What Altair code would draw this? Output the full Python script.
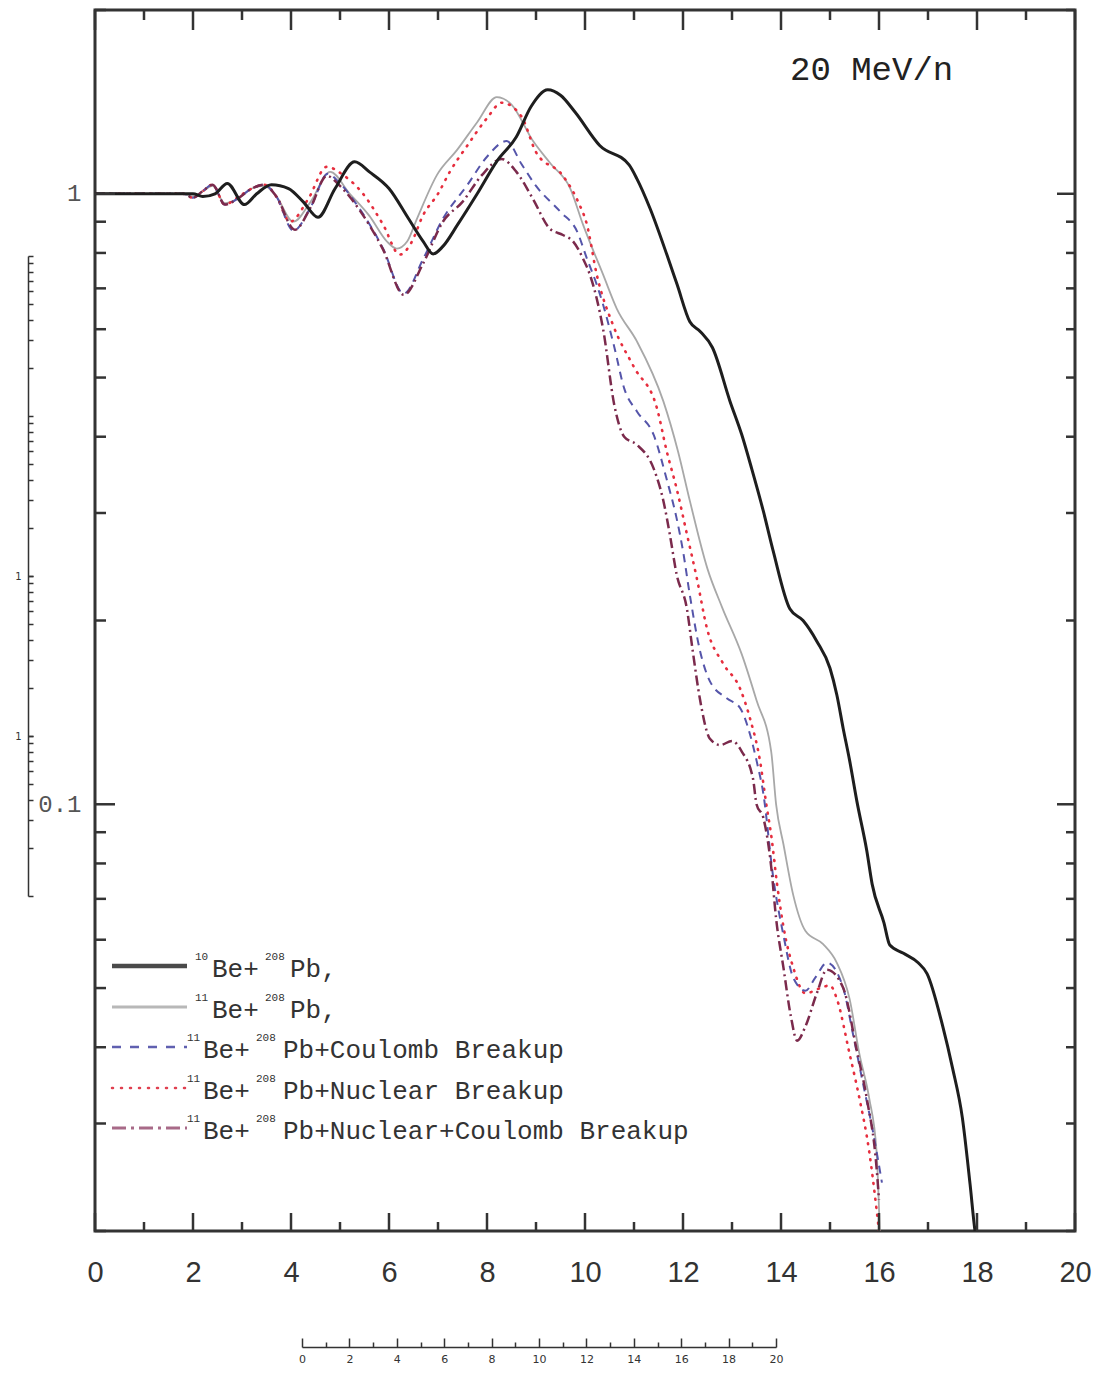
import altair as alt
import pandas as pd

# ---------------- data ----------------
x_be10 = [0, 1.0, 2.0, 2.2, 2.45, 2.7, 3.05, 3.3, 3.6, 3.95, 4.25, 4.55, 4.9, 5.3, 5.6, 6.0, 6.4, 6.7,
          6.9, 7.1, 7.4, 7.8, 8.2, 8.6, 8.9, 9.24, 9.5, 9.8, 10.3, 10.9, 11.06, 11.33, 11.67, 11.88,
          12.14, 12.35, 12.6, 12.96, 13.2, 13.4, 13.64, 13.84, 14.18, 14.45, 14.73, 15.0, 15.14,
          15.27, 15.4, 15.55, 15.75, 15.86, 16.1, 16.22, 16.5, 16.8, 16.98, 17.3, 17.5, 17.7, 17.86,
          17.96, 18.05]
y_be10 = [1, 1, 1, 0.99, 1.0, 1.04, 0.96, 1.0, 1.035, 1.02, 0.97, 0.915, 1.02, 1.128, 1.086, 1.02,
          0.91, 0.835, 0.797, 0.82, 0.89, 1.0, 1.13, 1.24, 1.39, 1.48, 1.45, 1.36, 1.2, 1.115, 1.058,
          0.945, 0.795, 0.71, 0.617, 0.595, 0.56, 0.457, 0.403, 0.355, 0.302, 0.26, 0.209, 0.2,
          0.185, 0.167, 0.151, 0.133, 0.118, 0.101, 0.084, 0.074, 0.064, 0.0588, 0.057, 0.055,
          0.0528, 0.0433, 0.037, 0.0307, 0.0238, 0.02, 0.0185]

x_be11 = [0, 1.8, 2.0, 2.2, 2.4, 2.65, 2.9, 3.2, 3.45, 3.7, 4.05, 4.4, 4.8, 5.2, 5.6, 5.96, 6.16,
          6.37, 6.57, 6.98, 7.39, 7.8, 8.2, 8.5, 8.94, 9.3, 9.7, 9.96, 10.37, 10.65, 11.06, 11.6,
          11.9, 12.14, 12.5, 12.8, 13.2, 13.5, 13.8, 13.9, 14.05, 14.25, 14.5, 14.86, 15.14, 15.4,
          15.6, 15.8, 15.95, 16.02]
y_be11 = [1, 1, 0.99, 1.01, 1.03, 0.965, 0.98, 1.02, 1.03, 0.99, 0.9, 0.97, 1.086, 1.0, 0.92,
          0.835, 0.813, 0.835, 0.91, 1.074, 1.18, 1.31, 1.44, 1.40, 1.22, 1.12, 1.02, 0.89, 0.737,
          0.648, 0.573, 0.457, 0.378, 0.314, 0.243, 0.21, 0.176, 0.148, 0.122, 0.1, 0.086, 0.071,
          0.062, 0.059, 0.055, 0.048, 0.039, 0.033, 0.027, 0.0195]

x_coul = [0, 1.8, 2.0, 2.2, 2.4, 2.65, 2.9, 3.2, 3.45, 3.7, 4.05, 4.4, 4.75, 5.0, 5.4, 5.88, 6.3,
          6.7, 7.1, 7.6, 8.0, 8.4, 8.7, 9.0, 9.5, 9.84, 10.04, 10.24, 10.37, 10.6, 10.8, 11.06,
          11.4, 11.67, 11.87, 12.0, 12.14, 12.35, 12.55, 12.9, 13.16, 13.37, 13.5, 13.64, 13.84,
          14.05, 14.25, 14.5, 14.7, 14.94, 15.27, 15.47, 15.67, 15.88, 16.06]
y_coul = [1, 1, 0.985, 1.01, 1.035, 0.96, 0.98, 1.02, 1.035, 0.99, 0.87, 0.95, 1.078, 1.04, 0.945,
          0.813, 0.686, 0.783, 0.91, 1.034, 1.15, 1.22, 1.12, 1.03, 0.934, 0.867, 0.783, 0.71,
          0.658, 0.56, 0.48, 0.44, 0.403, 0.34, 0.294, 0.26, 0.22, 0.178, 0.159, 0.149, 0.144,
          0.13, 0.118, 0.104, 0.076, 0.061, 0.052, 0.0495, 0.052, 0.055, 0.05, 0.042, 0.035,
          0.029, 0.024]

x_nucl = [0, 1.8, 2.0, 2.2, 2.4, 2.65, 2.9, 3.2, 3.45, 3.7, 3.98, 4.35, 4.73, 5.06, 5.47, 5.88,
          6.22, 6.45, 6.7, 7.0, 7.24, 7.6, 8.0, 8.3, 8.7, 9.0, 9.55, 9.86, 10.04, 10.24, 10.57,
          11.0, 11.47, 11.67, 11.87, 12.08, 12.28, 12.49, 12.82, 13.16, 13.37, 13.57, 13.7, 13.8,
          13.92, 14.05, 14.25, 14.5, 14.8, 15.0, 15.14, 15.4, 15.6, 15.8, 15.95, 16.0]
y_nucl = [1, 1, 0.985, 1.01, 1.035, 0.96, 0.985, 1.02, 1.035, 0.99, 0.9, 0.98, 1.107, 1.074, 1.0,
          0.89, 0.795, 0.83, 0.924, 1.0, 1.086, 1.2, 1.33, 1.41, 1.34, 1.17, 1.07, 0.97, 0.89,
          0.737, 0.61, 0.52, 0.445, 0.378, 0.329, 0.277, 0.235, 0.194, 0.17, 0.155, 0.138, 0.118,
          0.1, 0.089, 0.074, 0.063, 0.054, 0.049, 0.05, 0.0505, 0.048, 0.039, 0.033, 0.027,
          0.0217, 0.02]

x_both = [0, 1.8, 2.0, 2.2, 2.4, 2.65, 2.9, 3.2, 3.45, 3.7, 4.08, 4.4, 4.73, 5.0, 5.4, 5.88, 6.3,
          6.7, 7.1, 7.5, 7.9, 8.3, 8.6, 8.94, 9.28, 9.55, 9.76, 9.96, 10.1, 10.24, 10.37, 10.6,
          10.8, 11.06, 11.4, 11.6, 11.73, 11.87, 12.08, 12.2, 12.35, 12.55, 12.76, 13.0, 13.2,
          13.43, 13.5, 13.64, 13.8, 13.9, 14.05, 14.2, 14.33, 14.5, 14.73, 14.94, 15.27, 15.55,
          15.75, 15.95, 16.0]
y_both = [1, 1, 0.985, 1.01, 1.035, 0.96, 0.98, 1.02, 1.035, 0.99, 0.873, 0.95, 1.07, 1.03, 0.94,
          0.81, 0.683, 0.77, 0.9, 0.97, 1.074, 1.14, 1.086, 0.98, 0.877, 0.856, 0.835, 0.783,
          0.737, 0.673, 0.6, 0.45, 0.40, 0.388, 0.355, 0.314, 0.277, 0.238, 0.209, 0.178, 0.148,
          0.128, 0.125, 0.127, 0.122, 0.11, 0.1, 0.095, 0.079, 0.065, 0.054, 0.045, 0.041, 0.0433,
          0.049, 0.0536, 0.05, 0.0394, 0.033, 0.0254, 0.0225]

# axis tick values / labels
x_major = [0, 2, 4, 6, 8, 10, 12, 14, 16, 18, 20]
x_minor = [1, 3, 5, 7, 9, 11, 13, 15, 17, 19]
y_major = [0.1, 1]
y_minor = [0.02, 0.03, 0.04, 0.05, 0.06, 0.07, 0.08, 0.09,
           0.2, 0.3, 0.4, 0.5, 0.6, 0.7, 0.8, 0.9, 2]

# legend text pieces
leg_sup1 = ["10", "11", "11", "11", "11"]
leg_main1 = ["Be+", "Be+", "Be+", "Be+", "Be+"]
leg_sup2 = ["208", "208", "208", "208", "208"]
leg_main2 = ["Pb,", "Pb,", "Pb+Coulomb Breakup", "Pb+Nuclear Breakup",
             "Pb+Nuclear+Coulomb Breakup"]
energy_label = "20 MeV/n"

# small stray axes of the scanned figure
art_x_major = [0, 2, 4, 6, 8, 10, 12, 14, 16, 18, 20]
art_x_minor = [1, 3, 5, 7, 9, 11, 13, 15, 17, 19]
art_y_ticks = [m * 10.0 ** e for e in (-4, -3, -2, -1) for m in range(1, 10)] + [1.0]
art_y_labelled = [0.001, 0.01]

# ---------------- layout / style ----------------
W, H = 980, 1221
MONO = "Liberation Mono"

xs = alt.Scale(domain=[0, 20], nice=False, zero=False)
ys = alt.Scale(type="log", domain=[0.02, 2], nice=False)
xaxis = alt.Axis(values=x_major, ticks=False, tickSize=0, domain=False, grid=False, title=None,
                 labelFont="Liberation Sans", labelFontSize=29, labelColor="#333",
                 labelPadding=27, labelBaseline="top", labelFlush=False, labelOverlap=False)
yaxis = alt.Axis(values=y_major, ticks=False, tickSize=0, domain=False, grid=False, title=None,
                 labelExpr="datum.value >= 1 ? '1' : '0.1'", labelFont=MONO, labelFontSize=24,
                 labelColor="#555", labelPadding=14, labelFlush=False)


def curve(xv, yv, color, width, dash=None, cap="butt"):
    df = pd.DataFrame({"x": xv, "y": yv})
    kw = dict(color=color, strokeWidth=width, interpolate="monotone", clip=True, strokeCap=cap)
    if dash:
        kw["strokeDash"] = dash
    return alt.Chart(df).mark_line(**kw).encode(
        x=alt.X("x:Q", scale=xs, axis=xaxis),
        y=alt.Y("y:Q", scale=ys, axis=yaxis),
    )


curves = [
    curve(x_be11, y_be11, "#a8a8a8", 1.8),
    curve(x_nucl, y_nucl, "#e62e3e", 2.6, [1, 7], "round"),
    curve(x_coul, y_coul, "#5555aa", 2.0, [8, 6]),
    curve(x_both, y_both, "#7b2a4c", 2.5, [10, 4, 2, 4]),
    curve(x_be10, y_be10, "#1e1e1e", 3.0),
]

TC = "#333"
TW = 2.5


def xticks(vals, y0, y1):
    return alt.Chart(pd.DataFrame({"v": vals})).mark_rule(color=TC, strokeWidth=TW).encode(
        x=alt.X("v:Q", scale=xs, axis=xaxis), y=alt.value(y0), y2=alt.value(y1))


def yticks(vals, x0, x1):
    return alt.Chart(pd.DataFrame({"v": vals})).mark_rule(color=TC, strokeWidth=TW).encode(
        y=alt.Y("v:Q", scale=ys, axis=yaxis), x=alt.value(x0), x2=alt.value(x1))


ticks = [
    xticks(x_major, H, H - 18), xticks(x_minor, H, H - 9),
    xticks(x_major, 0, 20), xticks(x_minor, 0, 10),
    yticks(y_major, 0, 20), yticks(y_minor, 0, 11),
    yticks(y_major, W, W - 18), yticks(y_minor, W, W - 9),
]

# legend
row_y = [956, 997, 1037, 1078, 1118]
leg_style = [
    dict(color="#4a4a4a", strokeWidth=4.5),
    dict(color="#b8b8b8", strokeWidth=3),
    dict(color="#6060b0", strokeWidth=2.5, strokeDash=[9, 9]),
    dict(color="#e04050", strokeWidth=2.5, strokeDash=[1, 8], strokeCap="round"),
    dict(color="#a86a88", strokeWidth=3, strokeDash=[14, 5, 3, 5]),
]
legend = []
for i in range(5):
    ry = row_y[i]
    if i < 2:
        px = (100, 117, 170, 195)
    else:
        px = (92, 108, 161, 188)
    one = pd.DataFrame({"k": [0]})
    legend.append(alt.Chart(one).mark_rule(**leg_style[i]).encode(
        x=alt.value(17), x2=alt.value(92), y=alt.value(ry)))
    for txt, xx, dy, fs in ((leg_sup1[i], px[0], -6, 11), (leg_main1[i], px[1], 11, 26),
                            (leg_sup2[i], px[2], -6, 11), (leg_main2[i], px[3], 11, 26)):
        legend.append(alt.Chart(pd.DataFrame({"t": [txt]})).mark_text(
            font=MONO, fontSize=fs, color="#333", align="left", baseline="alphabetic").encode(
            text="t:N", x=alt.value(xx), y=alt.value(ry + dy)))

annot = alt.Chart(pd.DataFrame({"t": [energy_label]})).mark_text(
    font=MONO, fontSize=34, color="#222", align="left", baseline="alphabetic").encode(
    text="t:N", x=alt.value(695), y=alt.value(70))

main = alt.layer(*curves, *ticks, *legend, annot)

# stray axes (scanning artefacts)
art_df = pd.DataFrame({"ax": [0, 20], "ay": [1e-4, 1.0]})
art_xs = alt.Scale(domain=[0, 20], range=[207, 681], nice=False, zero=False)
art_ys = alt.Scale(type="log", domain=[1e-4, 1], range=[886, 246], nice=False)
artA = alt.Chart(art_df).mark_point(opacity=0).encode(
    x=alt.X("ax:Q", scale=art_xs,
            axis=alt.Axis(orient="top", offset=-1337, values=art_x_major, tickSize=9,
                          tickWidth=1.5, tickColor="#333", domainColor="#333", domainWidth=1.5,
                          labelFont="DejaVu Sans", labelFontSize=11, labelColor="#333",
                          labelBaseline="top", labelPadding=-15, labelFlush=False,
                          labelOverlap=False, grid=False, title=None)),
    y=alt.Y("ay:Q", scale=art_ys,
            axis=alt.Axis(orient="right", offset=-1047, values=art_y_ticks, tickSize=5,
                          tickWidth=1.5, tickColor="#333", domainColor="#333", domainWidth=1.5,
                          labels=False, grid=False, title=None)),
)
artB = alt.Chart(art_df).mark_point(opacity=0).encode(
    x=alt.X("ax:Q", scale=art_xs,
            axis=alt.Axis(orient="top", offset=-1337, values=art_x_minor, tickSize=5,
                          tickWidth=1.5, tickColor="#333", domain=False, labels=False,
                          grid=False, title=None)),
    y=alt.Y("ay:Q", scale=art_ys,
            axis=alt.Axis(orient="right", offset=-1047, values=art_y_labelled, tickSize=5,
                          tickWidth=1.5, tickColor="#333", domain=False,
                          labelExpr="'1'", labelFont="DejaVu Sans", labelFontSize=10,
                          labelColor="#333", labelAlign="right", labelPadding=-12,
                          labelFlush=False, labelOverlap=False, grid=False, title=None)),
)

chart = alt.layer(main, artA, artB).resolve_scale(
    x="independent", y="independent").resolve_axis(
    x="independent", y="independent").properties(
    width=W, height=H,
    padding={"left": 87, "top": 2, "right": 23, "bottom": 134},
    autosize=alt.AutoSizeParams(type="none"),
    background="white",
).configure_view(stroke="#333", strokeWidth=3)

chart.save("out.html", embed_options={"renderer": "svg", "actions": False})
